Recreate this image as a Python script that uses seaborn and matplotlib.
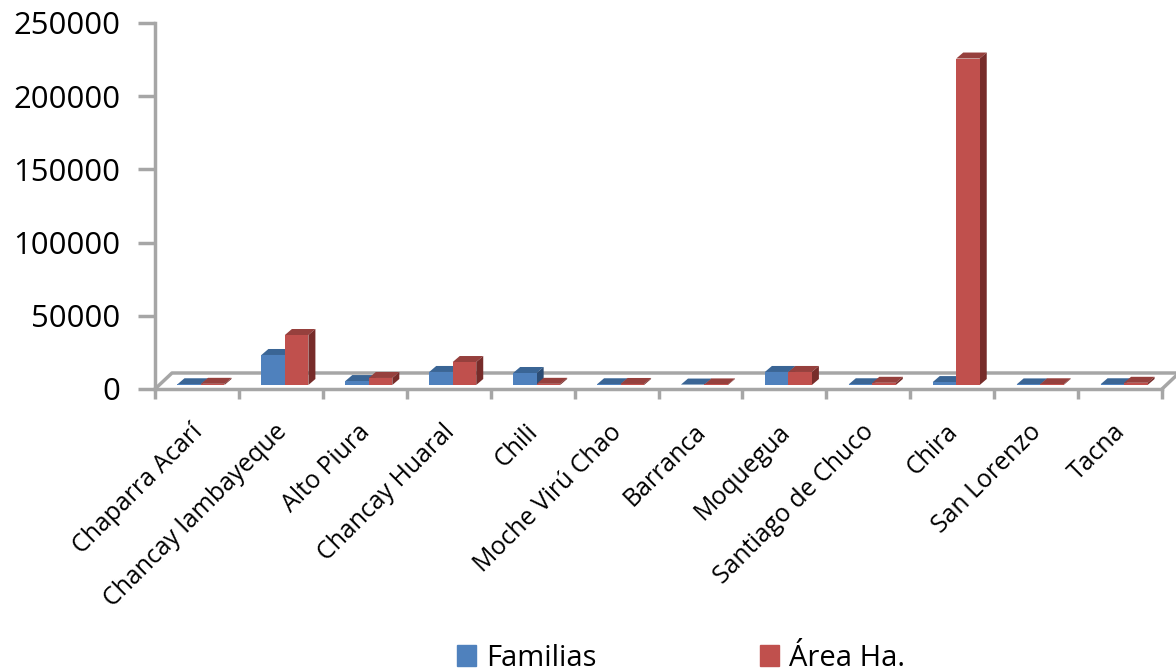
import pandas as pd
import numpy as np
import matplotlib
matplotlib.use('Agg')
import matplotlib.pyplot as plt
import seaborn as sns
from matplotlib.patches import Polygon, Patch
from matplotlib.transforms import ScaledTranslation

canales = ['Chaparra Acarí', 'Chancay lambayeque', 'Alto Piura', 'Chancay Huaral', 'Chili',
           'Moche Virú Chao', 'Barranca', 'Moquegua', 'Santiago de Chuco', 'Chira',
           'San Lorenzo', 'Tacna']
familias = [500, 20500, 2700, 8900, 8200, 500, 300, 8900, 500, 2000, 400, 500]
area_ha = [800, 34150, 4800, 15700, 800, 700, 400, 8900, 1500, 223000, 500, 1500]
yticks = [0, 50000, 100000, 150000, 200000, 250000]

df = pd.DataFrame({'canal': canales * 2,
                   'serie': ['Familias'] * 12 + ['Área Ha.'] * 12,
                   'valor': familias + area_ha})

colors = {'Familias': '#4F81BD', 'Área Ha.': '#C0504D'}
top_colors = {'#4F81BD': '#3A6595', '#C0504D': '#96403D'}
side_colors = {'#4F81BD': '#2C4D75', '#C0504D': '#772C2A'}
grey = '#A6A6A6'

sns.set_theme(style='white')
plt.rcParams['font.family'] = ['Open Sans', 'DejaVu Sans']

W, H = 1176, 671
fig = plt.figure(figsize=(W / 100, H / 100), dpi=100)
ax = fig.add_axes([155 / W, 1 - 389 / H, (1162 - 155) / W, (389 - 23) / H])

# bars stand a little behind the front edge of the floor
px_x = 12 / (1162 - 155)
px_y = 250000 / (389 - 23)
base = 4 * px_y
dx, dy = 7 * px_x, 6 * px_y
left = -0.548

# floor
fl_dx, fl_dy = 17 * px_x, 16 * px_y
ax.plot([left, left + fl_dx, left + 12 + fl_dx], [0, fl_dy, fl_dy], color=grey, lw=2.5, clip_on=False, zorder=1)
ax.plot([left + 12, left + 12 + fl_dx], [0, fl_dy], color=grey, lw=2.5, clip_on=False, zorder=1)

sns.barplot(data=df, x='canal', y='valor', hue='serie', palette=colors, width=0.56, gap=0,
            saturation=1, bottom=base, linewidth=0, legend=False, ax=ax, zorder=3)

bars = [b for b in ax.patches if b.get_height() > 0]
for b in bars:
    x0, y0, w, h = b.get_x(), b.get_y(), b.get_width(), b.get_height()
    col = matplotlib.colors.to_hex(b.get_facecolor())
    ax.add_patch(Polygon([(x0, y0 + h), (x0 + dx, y0 + h + dy), (x0 + w + dx, y0 + h + dy), (x0 + w, y0 + h)],
                         facecolor=top_colors[col.upper()], lw=0, zorder=2.5, clip_on=False))
    ax.add_patch(Polygon([(x0 + w, y0), (x0 + w + dx, y0 + dy), (x0 + w + dx, y0 + h + dy), (x0 + w, y0 + h)],
                         facecolor=side_colors[col.upper()], lw=0, zorder=2.5, clip_on=False))

ax.set_xlim(left, left + 12)
ax.set_ylim(0, 250000)
ax.set_xlabel('')
ax.set_ylabel('')
ax.set_yticks(yticks)
ax.set_xticks(range(12))
ax.set_xticklabels(canales, rotation=45, ha='right', va='top', rotation_mode='anchor', fontsize=17.9)
ax.set_xticks(left + np.arange(13), minor=True)
ax.tick_params(axis='x', which='major', length=0, pad=22)
ax.tick_params(axis='x', which='minor', length=7, width=2.5, color=grey, bottom=True)
ax.tick_params(axis='y', length=12, width=2.5, color=grey, left=True, labelsize=22.4, pad=13)
sns.despine(ax=ax)
for s in ['left', 'bottom']:
    ax.spines[s].set_color(grey)
    ax.spines[s].set_linewidth(2.5)
shift = ScaledTranslation(-11 / 100, 0, fig.dpi_scale_trans)
for lab in ax.get_xticklabels():
    lab.set_transform(lab.get_transform() + shift)
for lab in ax.get_yticklabels() + ax.get_xticklabels():
    lab.set_color('black')

handles = [Patch(color=colors['Familias'], label='Familias'), Patch(color=colors['Área Ha.'], label='Área Ha.')]
fig.legend(handles=handles, ncol=2, loc='lower left', bbox_to_anchor=(431 / W, -28 / H), frameon=False,
           fontsize=21, labelcolor='black', handlelength=0.65, handleheight=0.76, handletextpad=0.35, columnspacing=5.6)

fig.savefig('out.png', dpi=100)
